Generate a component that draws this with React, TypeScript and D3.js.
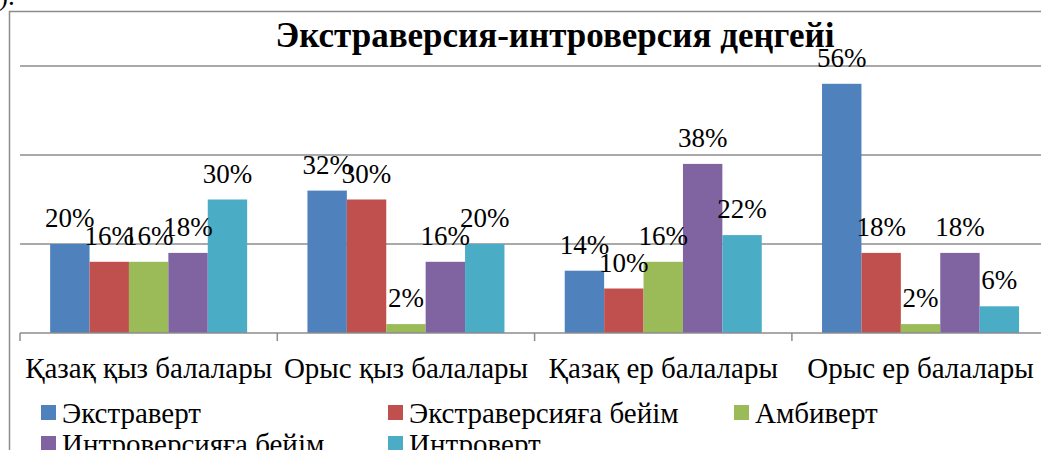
import React from "react";
import * as d3 from "d3";

const categories = ["Қазақ қыз балалары", "Орыс қыз балалары", "Қазақ ер балалары", "Орыс ер балалары"];
const seriesNames = ["Экстраверт", "Экстраверсияға бейім", "Амбиверт", "Интроверсияға бейім", "Интроверт"];
const extravert = [20, 32, 14, 56];
const extraLean = [16, 30, 10, 18];
const ambivert = [16, 2, 16, 2];
const introLean = [18, 16, 38, 18];
const introvert = [30, 20, 22, 6];
const gridTicks = [0, 20, 40, 60];
const colors = ["#4F81BD", "#C0504D", "#9BBB59", "#8064A2", "#4BACC6"];
const title = "Экстраверсия-интроверсия деңгейі";

const seriesValues = [extravert, extraLean, ambivert, introLean, introvert];

export default function App() {
  const W = 1041, H = 450;
  const x0 = d3.scaleBand<string>().domain(categories).range([20, 1049.2]).paddingInner(0).paddingOuter(0);
  const x1 = d3.scaleBand<string>().domain(seriesNames).range([0, x0.bandwidth()]).paddingInner(0).paddingOuter(0.765);
  const y = d3.scaleLinear().domain([0, 60]).range([333, 66]);
  const font = "Liberation Serif, Times New Roman, serif";
  const ts = { fontFamily: font };

  const legendPos = [
    { x: 41, y: 405 },
    { x: 388, y: 405 },
    { x: 734, y: 405 },
    { x: 41, y: 436 },
    { x: 388, y: 436 },
  ];

  return (
    <svg width={W} height={H} style={{ position: "absolute", left: 0, top: 0, background: "#fff", fontFamily: font }}>
      <rect x={0} y={0} width={W} height={H} fill="#fff" />
      <text x={-1} y={5} fontSize={27} style={ts}>).</text>
      <rect x={9.5} y={11.5} width={1200} height={600} fill="#fff" stroke="#8c8c8c" strokeWidth={1.5} />
      {gridTicks.filter((t) => t > 0).map((t) => (
        <line key={t} x1={20} x2={1049} y1={y(t)} y2={y(t)} stroke="#8c8c8c" strokeWidth={1.5} />
      ))}
      <text x={555} y={47} textAnchor="middle" fontSize={35} fontWeight="bold" style={ts}>{title}</text>
      {categories.map((c, ci) => (
        <g key={c} transform={`translate(${x0(c)},0)`}>
          {seriesNames.map((s, si) => {
            const v = seriesValues[si][ci];
            const bx = x1(s)!;
            return (
              <rect key={s} x={bx} y={y(v)} width={x1.bandwidth()} height={y(0) - y(v)} fill={colors[si]} />
            );
          })}
        </g>
      ))}
      {categories.map((c, ci) => (
        <g key={c + "l"} transform={`translate(${x0(c)},0)`}>
          {seriesNames.map((s, si) => {
            const v = seriesValues[si][ci];
            const bx = x1(s)!;
            return (
              <text key={s} x={bx + x1.bandwidth() / 2} y={y(v) - 17} textAnchor="middle" fontSize={27} style={ts}>
                {v}%
              </text>
            );
          })}
        </g>
      ))}
      <line x1={20} x2={1049} y1={333} y2={333} stroke="#8c8c8c" strokeWidth={1.5} />
      {categories.map((c) => (
        <line key={c + "t"} x1={x0(c)!} x2={x0(c)!} y1={333} y2={341} stroke="#8c8c8c" strokeWidth={1.5} />
      ))}
      {categories.map((c) => (
        <text key={c + "c"} x={x0(c)! + x0.bandwidth() / 2} y={378} textAnchor="middle" fontSize={29} style={ts}>
          {c}
        </text>
      ))}
      {seriesNames.map((s, i) => (
        <g key={s + "lg"} transform={`translate(${legendPos[i].x},${legendPos[i].y})`}>
          <rect x={0} y={0} width={15} height={15} fill={colors[i]} />
          <text x={21} y={18} fontSize={29} style={ts}>{s}</text>
        </g>
      ))}
    </svg>
  );
}
